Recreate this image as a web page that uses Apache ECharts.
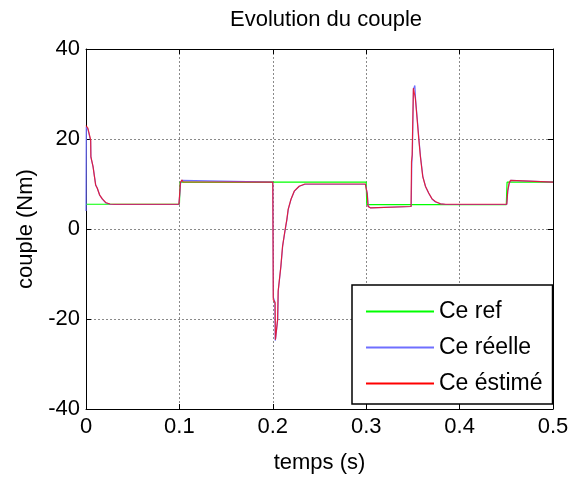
<!DOCTYPE html>
<html>
<head>
<meta charset="utf-8">
<script src="https://cdn.jsdelivr.net/npm/echarts@6/dist/echarts.min.js"></script>
<style>
  html, body { margin: 0; padding: 0; background: #fff; }
  #chart { width: 585px; height: 486px; }
</style>
</head>
<body>
<div id="chart"></div>
<script>
// Torque reference (step profile)
const refTime  = [0, 0.1, 0.1008, 0.3, 0.3006, 0.45, 0.4508, 0.5];
const refValue = [5.5, 5.5, 10.4, 10.4, 5.4, 5.4, 10.4, 10.4];

// Measured torque
const realTime  = [0, 0.0003, 0.002, 0.005, 0.0053, 0.0077, 0.0092, 0.0105, 0.0122, 0.0147, 0.0177, 0.0212, 0.0258, 0.03, 0.0995, 0.1006, 0.1012, 0.1026, 0.1042, 0.2, 0.2006, 0.2022, 0.2026, 0.2031, 0.2053, 0.2059, 0.2088, 0.2106, 0.2131, 0.2152, 0.2166, 0.2195, 0.2231, 0.2284, 0.2345, 0.2992, 0.3012, 0.3022, 0.3045, 0.3062, 0.3482, 0.3488, 0.3494, 0.3506, 0.3521, 0.3528, 0.3546, 0.3564, 0.3582, 0.3607, 0.3636, 0.3671, 0.3707, 0.3742, 0.3796, 0.3852, 0.4505, 0.4516, 0.4531, 0.4547, 0.4562, 0.5];
const realValue = [4.0, 22.7, 22.2, 19.6, 15.9, 13.7, 11.5, 9.7, 9.0, 7.5, 6.6, 5.8, 5.5, 5.45, 5.45, 8.3, 10.1, 10.8, 10.4, 10.4, -15.2, -16.2, -24.8, -24.2, -20.0, -13.6, -8.1, -3.7, -0.4, 2.2, 4.4, 6.6, 8.4, 9.5, 9.95, 9.95, 7.8, 5.0, 4.7, 5.0, 5.0, 14.6, 16.4, 31.1, 31.9, 29.0, 24.6, 20.1, 16.0, 11.6, 9.4, 7.9, 6.6, 6.0, 5.6, 5.45, 5.45, 8.4, 10.1, 10.8, 10.4, 10.4];

// Estimated torque
const estTime  = [0, 0.002, 0.005, 0.0052, 0.0075, 0.009, 0.0103, 0.012, 0.0145, 0.0175, 0.021, 0.0256, 0.03, 0.0995, 0.1005, 0.101, 0.1025, 0.104, 0.2, 0.2005, 0.2025, 0.2028, 0.2051, 0.2057, 0.2086, 0.2104, 0.2129, 0.215, 0.2164, 0.2193, 0.2229, 0.2282, 0.2343, 0.299, 0.301, 0.302, 0.3043, 0.306, 0.348, 0.3485, 0.3492, 0.3505, 0.352, 0.3526, 0.3544, 0.3562, 0.358, 0.3605, 0.3634, 0.3669, 0.3705, 0.374, 0.3794, 0.385, 0.4505, 0.4515, 0.453, 0.4545, 0.456, 0.5];
const estValue = [23.0, 22.4, 19.8, 16.1, 13.9, 11.7, 9.8, 9.1, 7.6, 6.7, 5.9, 5.55, 5.5, 5.5, 8.5, 10.2, 10.9, 10.45, 10.4, -15.7, -16.4, -24.6, -20.2, -13.9, -8.3, -3.9, -0.5, 2.1, 4.3, 6.5, 8.4, 9.5, 10.0, 10.0, 8.0, 5.0, 4.7, 5.0, 5.0, 15.0, 16.5, 31.3, 31.7, 29.1, 24.7, 20.2, 16.1, 11.7, 9.5, 8.0, 6.7, 6.1, 5.6, 5.5, 5.5, 8.5, 10.2, 10.8, 10.4, 10.4];

const xTicks = { min: 0, max: 0.5, interval: 0.1 };
const yTicks = { min: -40, max: 40, interval: 20 };

const seriesNames = ['Ce ref', 'Ce réelle', 'Ce éstimé'];
const seriesColors = ['#00ff00', '#6f6fff', '#ff0000'];

function pairs(t, v) { return t.map((x, i) => [x, v[i]]); }

const FONT = 'Liberation Sans, Arial, sans-serif';
const chart = echarts.init(document.getElementById('chart'), null, { renderer: 'canvas' });

const axisCommon = {
  axisLine: { show: true, onZero: false, lineStyle: { color: '#000', width: 1 } },
  axisTick: { show: true, inside: true, length: 5, lineStyle: { color: '#000' } }
};
const gridLine = { show: true, lineStyle: { color: '#8a8a8a', type: [2, 2], width: 1 } };

chart.setOption({
  animation: false,
  backgroundColor: '#fff',
  title: {
    text: 'Evolution du couple',
    left: 321, top: 4, textAlign: 'center',
    textStyle: { fontFamily: FONT, fontSize: 22, fontWeight: 'normal', color: '#000' }
  },
  grid: { left: 86, right: 32, top: 49, bottom: 77, containLabel: false },
  legend: {
    data: [
      { name: seriesNames[0], itemStyle: { color: seriesColors[0] }, icon: 'rect' },
      { name: seriesNames[1], itemStyle: { color: seriesColors[1] }, icon: 'rect' },
      { name: seriesNames[2], itemStyle: { color: seriesColors[2] }, icon: 'rect' }
    ],
    orient: 'vertical',
    left: 352, top: 285,
    itemWidth: 68, itemHeight: 2, itemGap: 13,
    padding: [15, 10, 9, 14],
    backgroundColor: '#fff',
    borderColor: '#000', borderWidth: 1.5,
    textStyle: { fontFamily: FONT, fontSize: 23, color: '#000' },
    selectedMode: false,
    z: 10
  },
  xAxis: [
    Object.assign({
      type: 'value', position: 'bottom', min: xTicks.min, max: xTicks.max, interval: xTicks.interval,
      name: 'temps (s)', nameLocation: 'middle', nameGap: 43,
      nameTextStyle: { fontFamily: FONT, fontSize: 22, color: '#000' },
      axisLabel: { fontFamily: FONT, fontSize: 22, color: '#000', margin: 7 },
      splitLine: gridLine
    }, axisCommon),
    Object.assign({
      type: 'value', position: 'top', min: xTicks.min, max: xTicks.max, interval: xTicks.interval,
      axisLabel: { show: false }, splitLine: { show: false }
    }, axisCommon)
  ],
  yAxis: [
    Object.assign({
      type: 'value', position: 'left', min: yTicks.min, max: yTicks.max, interval: yTicks.interval,
      name: 'couple (Nm)', nameLocation: 'middle', nameGap: 43,
      nameTextStyle: { fontFamily: FONT, fontSize: 22, color: '#000' },
      axisLabel: { fontFamily: FONT, fontSize: 22, color: '#000', margin: 6 },
      splitLine: gridLine
    }, axisCommon),
    Object.assign({
      type: 'value', position: 'right', min: yTicks.min, max: yTicks.max, interval: yTicks.interval,
      axisLabel: { show: false }, splitLine: { show: false }
    }, axisCommon)
  ],
  series: [
    {
      name: seriesNames[0], type: 'line', data: pairs(refTime, refValue),
      showSymbol: false, symbol: 'none', lineStyle: { color: seriesColors[0], width: 1.2 },
      itemStyle: { color: seriesColors[0] }, z: 2
    },
    {
      name: seriesNames[1], type: 'line', data: pairs(realTime, realValue),
      showSymbol: false, symbol: 'none', lineStyle: { color: seriesColors[1], width: 1.2 },
      itemStyle: { color: seriesColors[1] }, z: 3
    },
    {
      name: seriesNames[2], type: 'line', data: pairs(estTime, estValue),
      showSymbol: false, symbol: 'none', lineStyle: { color: seriesColors[2], width: 1.2, opacity: 0.75 },
      itemStyle: { color: seriesColors[2] }, z: 4
    }
  ]
});
</script>
</body>
</html>
